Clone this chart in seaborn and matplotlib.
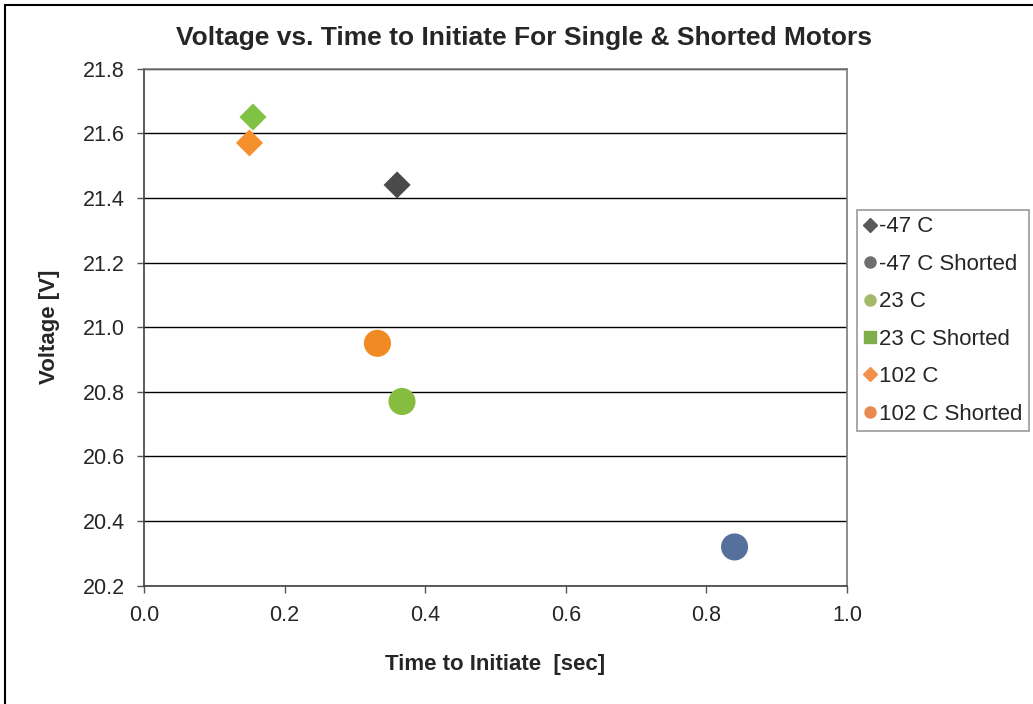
import matplotlib
matplotlib.use("Agg")
import matplotlib.pyplot as plt
import matplotlib.ticker as mticker
from matplotlib.lines import Line2D
import seaborn as sns
import pandas as pd

# values
series = ["-47 C", "-47 C Shorted", "23 C", "23 C Shorted", "102 C", "102 C Shorted"]
time_sec = [0.36, 0.84, 0.155, 0.367, 0.15, 0.332]
voltage = [21.44, 20.32, 21.65, 20.77, 21.57, 20.95]

colors = ["#4a4a4a", "#55709c", "#80c344", "#86bd3e", "#f5902c", "#f28a24"]
markers = ["D", "o", "D", "o", "D", "o"]
marker_sizes = [190, 380, 190, 380, 190, 380]
legend_colors = ["#5a5a5a", "#6f6f6f", "#a3b86b", "#7fae4a", "#f0924a", "#e88a4e"]
legend_markers = ["D", "o", "o", "s", "D", "o"]

df = pd.DataFrame({"series": series, "time": time_sec, "voltage": voltage})

sns.set_style("white")
plt.rcParams["font.family"] = ["Liberation Sans", "DejaVu Sans"]

fig = plt.figure(figsize=(10.33, 7.04), dpi=100)
ax = fig.add_axes([0.1394, 0.168, 0.6806, 0.7346])

sns.scatterplot(
    data=df, x="time", y="voltage", hue="series", style="series", size="series",
    hue_order=series, style_order=series, size_order=series,
    palette=dict(zip(series, colors)), markers=dict(zip(series, markers)),
    sizes=dict(zip(series, marker_sizes)),
    edgecolor="none", legend=False, ax=ax,
)

ax.set_xlim(0, 1.0)
ax.set_ylim(20.2, 21.8)
ax.xaxis.set_major_locator(mticker.MultipleLocator(0.2))
ax.yaxis.set_major_locator(mticker.MultipleLocator(0.2))
ax.xaxis.set_major_formatter(mticker.FormatStrFormatter("%.1f"))
ax.yaxis.set_major_formatter(mticker.FormatStrFormatter("%.1f"))
ax.grid(axis="y", color="black", linewidth=1.0)
ax.set_axisbelow(True)
ax.tick_params(axis="both", which="major", direction="out", length=5, width=1,
               color="#555555", labelsize=15.5, bottom=True, left=True)
ax.tick_params(axis="y", pad=9)
ax.tick_params(axis="x", pad=9)
for side in ["left", "bottom"]:
    ax.spines[side].set_color("#404040")
    ax.spines[side].set_linewidth(1.2)
for side in ["top", "right"]:
    ax.spines[side].set_color("#7a7a7a")
    ax.spines[side].set_linewidth(1.2)

ax.set_xlabel("Time to Initiate  [sec]", fontsize=16, fontweight="bold", labelpad=20)
ax.set_ylabel("Voltage [V]", fontsize=16, fontweight="bold", labelpad=16)
fig.text(0.507, 0.946, "Voltage vs. Time to Initiate For Single & Shorted Motors",
         ha="center", va="center", fontsize=19, fontweight="bold")

handles = [
    Line2D([], [], linestyle="none", marker=m, color=c, markersize=7 if m == "D" else 8)
    for m, c in zip(legend_markers, legend_colors)
]
leg = fig.legend(handles, series, loc="upper left", bbox_to_anchor=(0.830, 0.702),
                 frameon=True, fancybox=False, fontsize=16, handlelength=0.5,
                 handletextpad=0.15, labelspacing=0.74, borderpad=0.3,
                 borderaxespad=0.0)
leg.get_frame().set_edgecolor("#808080")
leg.get_frame().set_linewidth(1.2)

# outer chart frame
fig.add_artist(Line2D([0.005, 0.005], [0.0, 0.993], color="black", linewidth=1.5,
                      transform=fig.transFigure))
fig.add_artist(Line2D([0.005, 1.0], [0.993, 0.993], color="black", linewidth=1.5,
                      transform=fig.transFigure))

fig.savefig("out.png", dpi=100)
